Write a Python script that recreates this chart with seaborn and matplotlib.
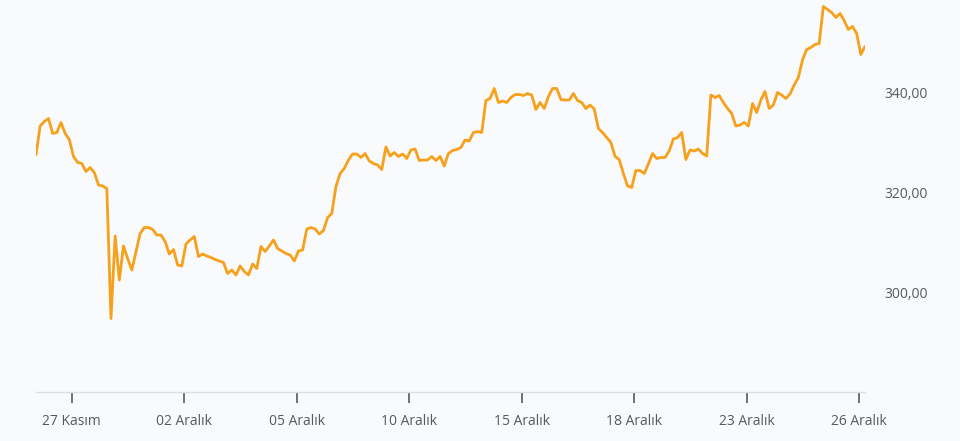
import pandas as pd
import matplotlib.pyplot as plt
import seaborn as sns

prices = [
    327.6, 333.4, 334.3, 334.9, 331.9, 332.1, 334.1, 331.9, 330.7, 327.3,
    326.1, 325.9, 324.3, 325.1, 324.1, 321.6, 321.4, 320.9, 294.9, 311.4,
    302.6, 309.4, 306.9, 304.6, 308.3, 311.9, 313.1, 313.1, 312.7, 311.6,
    311.6, 310.3, 307.8, 308.7, 305.6, 305.4, 309.8, 310.6, 311.3, 307.3,
    307.8, 307.4, 307.1, 306.7, 306.4, 306.1, 303.9, 304.6, 303.6, 305.4,
    304.3, 303.6, 305.8, 304.9, 309.3, 308.3, 309.4, 310.6, 308.9, 308.4,
    307.9, 307.6, 306.4, 308.4, 308.6, 312.8, 313.1, 312.8, 311.8, 312.5,
    315.1, 315.9, 321.3, 323.9, 324.9, 326.6, 327.8, 327.8, 327.1, 327.9,
    326.4, 325.9, 325.6, 324.7, 329.2, 327.4, 328.1, 327.3, 327.8, 326.9,
    328.6, 328.8, 326.5, 326.6, 326.6, 327.3, 326.5, 327.3, 325.4, 327.9,
    328.5, 328.7, 329.1, 330.6, 330.4, 332.1, 332.3, 332.1, 338.5, 338.9,
    340.9, 338.1, 338.4, 338.1, 339.1, 339.7, 339.7, 339.5, 339.9, 339.6,
    336.7, 338.1, 336.9, 339.3, 340.9, 340.9, 338.7, 338.6, 338.6, 339.9,
    338.5, 338.1, 336.9, 337.6, 336.8, 332.9, 332.1, 331.1, 330.1, 327.3,
    326.7, 323.9, 321.4, 321.1, 324.5, 324.5, 323.9, 325.8, 327.9, 326.9,
    327.1, 327.1, 328.4, 330.8, 331.1, 332.1, 326.7, 328.6, 328.4, 328.8,
    327.9, 327.4, 339.6, 339.1, 339.5, 338.1, 336.9, 335.9, 333.4, 333.6,
    334.1, 333.4, 337.9, 336.1, 338.6, 340.3, 336.9, 337.6, 340.1, 339.6,
    338.9, 339.8, 341.6, 343.1, 346.6, 348.7, 349.1, 349.7, 349.9, 357.3,
    356.7, 356.1, 355.1, 355.9, 354.5, 352.7, 353.3, 351.9, 347.7, 349.3,
]

date_labels = ["27 Kasım", "02 Aralık", "05 Aralık", "10 Aralık",
               "15 Aralık", "18 Aralık", "23 Aralık", "26 Aralık"]
date_ticks = [8.6 + 27 * k for k in range(len(date_labels))]

price_ticks = [300, 320, 340]
price_labels = ["300,00", "320,00", "340,00"]

df = pd.DataFrame({"idx": range(len(prices)), "price": prices})

bg = "#f9fafb"
sns.set_style("white", {"axes.facecolor": bg, "figure.facecolor": bg})
plt.rcParams["font.family"] = ["Open Sans", "DejaVu Sans"]

fig = plt.figure(figsize=(9.6, 4.41), dpi=100)
ax = fig.add_axes([36 / 960, 49 / 441, 829 / 960, 392 / 441])

sns.lineplot(data=df, x="idx", y="price", color="#f7a01b", linewidth=2.0, ax=ax)

ax.set_xlim(0, len(prices) - 1)
ax.set_ylim(280.2, 358.6)

ax.set_xticks(date_ticks)
ax.set_xticklabels(date_labels)
ax.set_yticks(price_ticks)
ax.set_yticklabels(price_labels)

ax.yaxis.tick_right()
ax.tick_params(axis="y", length=0, pad=14, labelsize=10, labelcolor="#555a60")
ax.tick_params(axis="x", bottom=True, length=8, width=1.2, color="#555a60", pad=8,
               labelsize=10, labelcolor="#555a60")

for side in ["top", "left", "right"]:
    ax.spines[side].set_visible(False)
ax.spines["bottom"].set_color("#dcdde0")
ax.spines["bottom"].set_linewidth(1)

ax.set_xlabel("")
ax.set_ylabel("")

fig.savefig("out.png", dpi=100, facecolor=bg)
